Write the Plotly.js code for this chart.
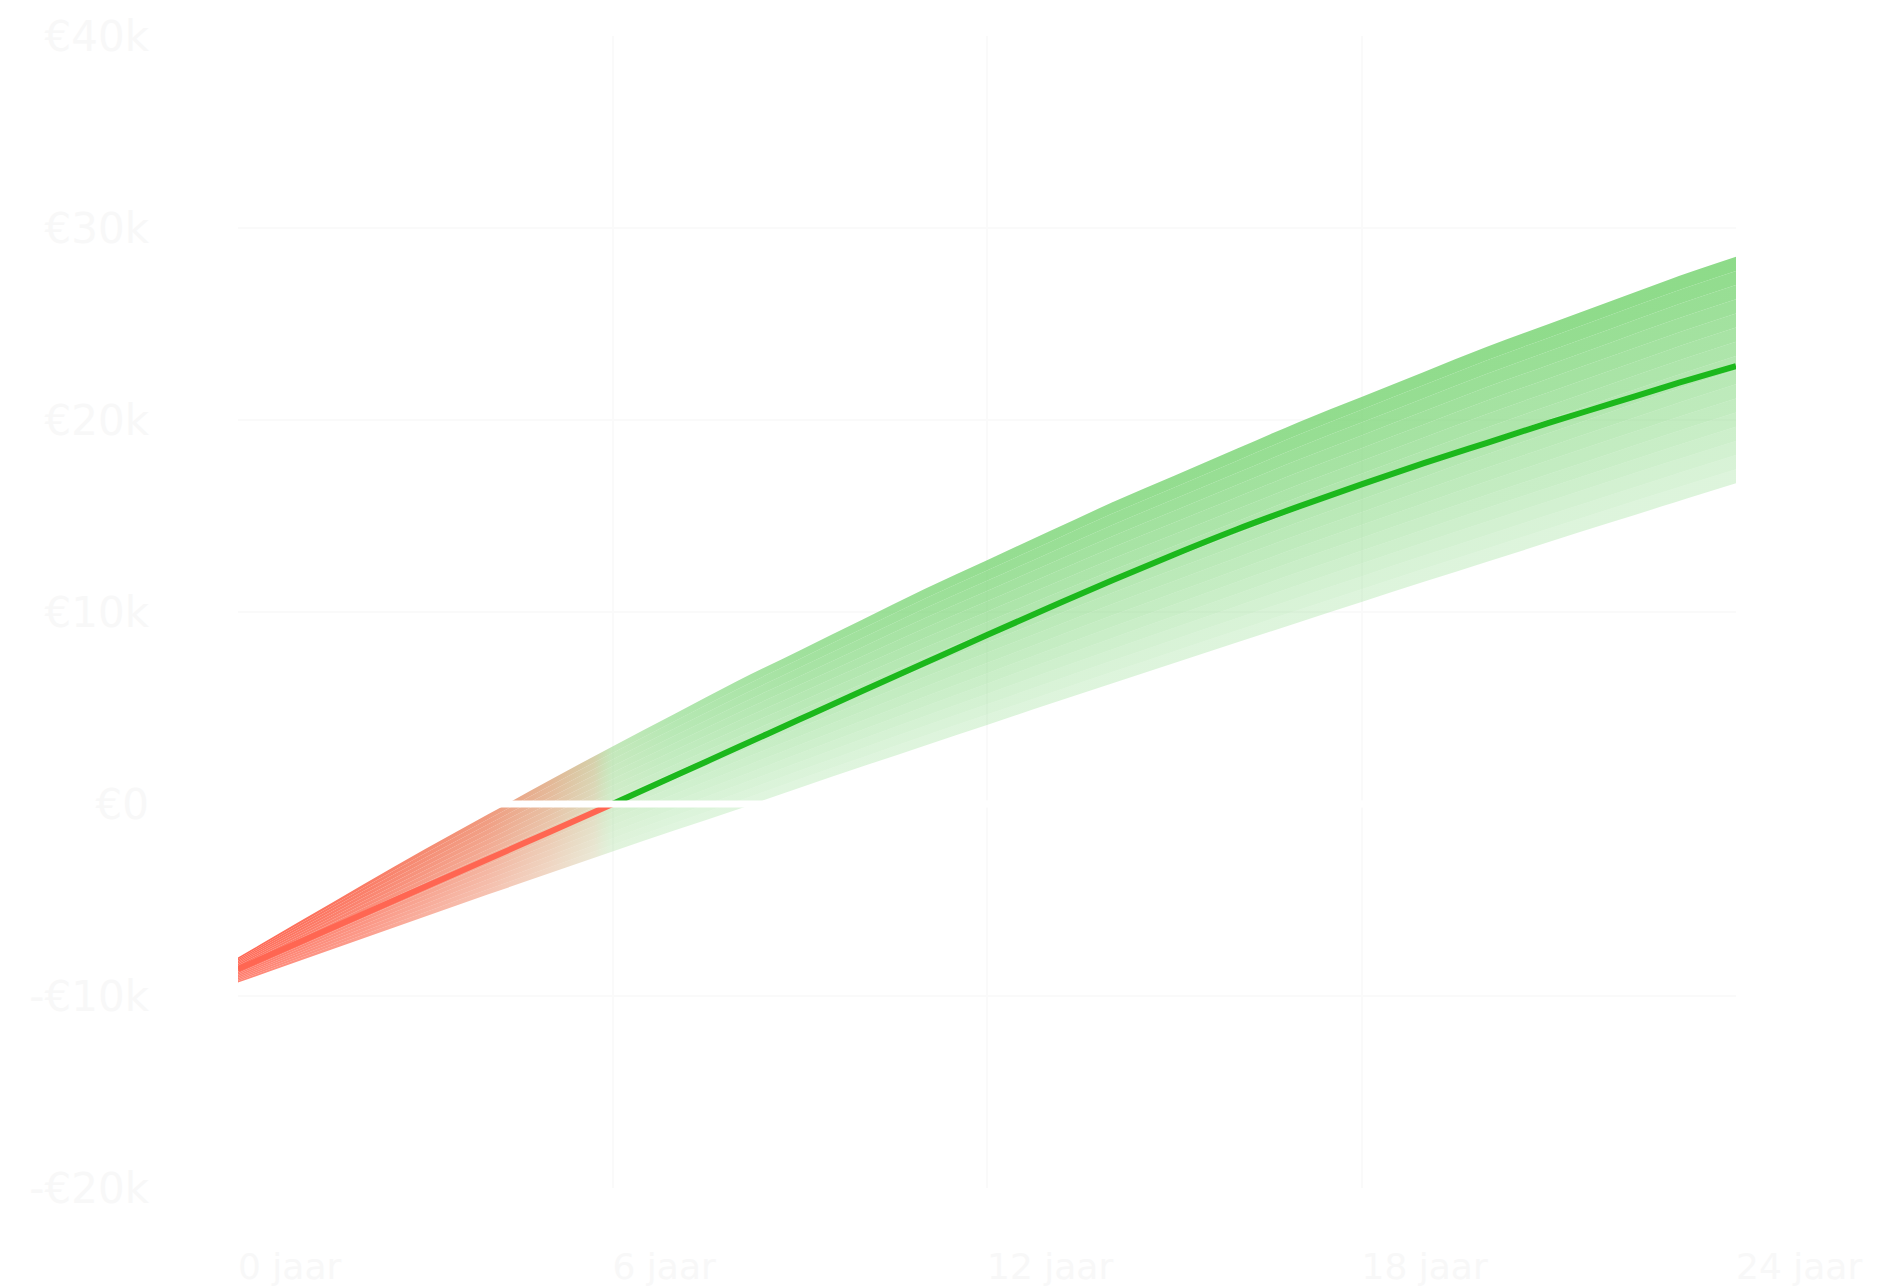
<!DOCTYPE html>
<html>
<head>
<meta charset="utf-8">
<script src="https://cdn.plot.ly/plotly-3.0.1.min.js"></script>
<style>
  html, body { margin: 0; padding: 0; background: #ffffff; }
  #chart { width: 1901px; height: 1288px; }
</style>
</head>
<body>
<div id="chart"></div>
<script>
// ---- data (values in thousands of euros) ----
const years  = [0,1,2,3,4,5,6,7,8,9,10,11,12,13,14,15,16,17,18,19,20,21,22,23,24];
const upper  = [-8.0,-6.1,-4.2,-2.35,-0.55,1.25,3.0,4.7,6.4,8.0,9.6,11.2,12.7,14.2,15.7,17.1,18.5,19.9,21.2,22.5,23.8,25.0,26.2,27.4,28.5];
const median = [-8.6,-7.17,-5.74,-4.31,-2.88,-1.44,0.0,1.47,2.94,4.41,5.88,7.34,8.8,10.23,11.64,13.0,14.3,15.5,16.65,17.75,18.8,19.85,20.85,21.85,22.8];
const lower  = [-9.3,-8.15,-7.0,-5.86,-4.72,-3.6,-2.48,-1.37,-0.28,0.85,1.95,3.04,4.12,5.21,6.28,7.35,8.41,9.47,10.52,11.57,12.6,13.64,14.67,15.69,16.7];
const breakEvenYear = 6;

const yTickVals = [-20,-10,0,10,20,30,40];
const yTickText = ['-€20k','-€10k','€0','€10k','€20k','€30k','€40k'];
const xTickVals = [0,6,12,18,24];
const xTickText = ['0 jaar','6 jaar','12 jaar','18 jaar','24 jaar'];

// ---- styling helpers ----
// horizontal colour stops: [year, rgb, bottomAlpha, topAlpha]
const stops = [
  [0,   [255,95,75],   0.76, 0.96],
  [2,   [250,110,86],  0.66, 0.92],
  [4,   [238,140,108], 0.52, 0.88],
  [5,   [222,168,128], 0.44, 0.84],
  [5.7, [200,192,142], 0.36, 0.76],
  [6,   [150,214,135], 0.28, 0.58],
  [7,   [120,212,115], 0.22, 0.58],
  [9,   [120,212,115], 0.22, 0.72],
  [12,  [120,212,115], 0.23, 0.80],
  [24,  [120,212,115], 0.23, 0.86]
];
function bandScale(f) {
  return stops.map(s => {
    const a = Math.min(1, s[2] + (s[3] - s[2]) * f);
    return [s[0] / 24, 'rgba(' + s[1][0] + ',' + s[1][1] + ',' + s[1][2] + ',' + a.toFixed(3) + ')'];
  });
}

const N = 16;
const traces = [];
for (let k = 0; k <= N; k++) {
  const y = years.map((_, i) => lower[i] + (upper[i] - lower[i]) * k / N);
  const tr = {
    x: years, y: y, type: 'scatter', mode: 'lines',
    line: { width: 0, color: 'rgba(0,0,0,0)', shape: 'spline', smoothing: 1 },
    hoverinfo: 'skip', showlegend: false
  };
  if (k > 0) {
    tr.fill = 'tonexty';
    tr.fillcolor = 'rgba(140,218,136,0.5)';
    tr.fillgradient = { type: 'horizontal', start: 0, stop: 24, colorscale: bandScale((k - 0.5) / N) };
  }
  traces.push(tr);
}

const cut = years.indexOf(breakEvenYear);
traces.push({
  x: years.slice(0, cut + 1), y: median.slice(0, cut + 1),
  type: 'scatter', mode: 'lines', line: { color: '#ff6652', width: 6, shape: 'spline', smoothing: 1 },
  hoverinfo: 'skip', showlegend: false
});
traces.push({
  x: years.slice(cut), y: median.slice(cut),
  type: 'scatter', mode: 'lines', line: { color: '#1cb81c', width: 6, shape: 'spline', smoothing: 1 },
  hoverinfo: 'skip', showlegend: false
});
// white zero line drawn over the band
traces.push({
  x: [years[0], years[years.length - 1]], y: [0, 0],
  type: 'scatter', mode: 'lines', line: { color: '#ffffff', width: 7 },
  hoverinfo: 'skip', showlegend: false
});

const yFont = { family: 'DejaVu Sans, Arial, sans-serif', size: 42, color: '#f8f8f8' };
const xFont = { family: 'DejaVu Sans, Arial, sans-serif', size: 36, color: '#f8f8f8' };

const layout = {
  width: 1901, height: 1288,
  paper_bgcolor: '#ffffff', plot_bgcolor: '#ffffff',
  margin: { l: 238, r: 165, t: 36, b: 100 },
  showlegend: false,
  xaxis: {
    range: [0, 24], tickvals: xTickVals, ticktext: xTickText,
    showgrid: true, gridcolor: '#fafafa', gridwidth: 2,
    zeroline: false, showline: false, ticks: '',
    ticklabelposition: 'outside right', ticklabelstandoff: 54,
    tickfont: xFont, fixedrange: true
  },
  yaxis: {
    range: [-20, 40], tickvals: yTickVals, ticktext: yTickText,
    showgrid: true, gridcolor: '#fafafa', gridwidth: 2,
    zeroline: false, showline: false, ticks: '',
    ticklabelstandoff: 88,
    tickfont: yFont, fixedrange: true
  }
};

Plotly.newPlot('chart', traces, layout, { displayModeBar: false, staticPlot: true });
</script>
</body>
</html>
